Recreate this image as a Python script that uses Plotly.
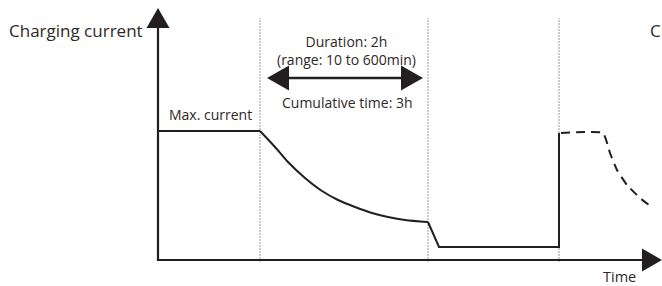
import plotly.graph_objects as go

# Coordinate system: time to the right of the current axis, current upward from the time axis
T_MIN, T_AXIS_TIP = -158, 504
I_MIN, I_MAX_VIEW = -26, 260
I_AXIS_TIP = 252

phase_bounds = [102, 270, 401]          # dotted phase separators (time)
phase_top = 242

# constant current phase
cc_t = [0, 102]
cc_i = [129, 129]
# decaying phase
decay_t = [102, 117, 130, 147, 164, 180, 197, 214, 230, 247, 270]
decay_i = [129, 113, 98, 82, 69, 60, 53, 47, 43, 40, 38]
# drop, float and restart
tail_t = [270, 281, 401, 401]
tail_i = [38, 13, 13, 127]
# next cycle (dashed)
next_t = [403, 445, 452, 459, 469, 482, 495]
next_i = [127, 127, 107, 90, 75, 62, 52]

# duration arrow
dur_t = [109, 265]
dur_i = 182

INK = "#231f20"
TXT = "#2e2826"
FONT = "Open Sans"

fig = go.Figure()

# dotted separators
for tb in phase_bounds:
    fig.add_trace(go.Scatter(x=[tb, tb], y=[-2, phase_top], mode="lines",
                             line=dict(color="#9a9a9a", width=1, dash="2px,1px"),
                             hoverinfo="skip", showlegend=False))

# axes lines
AH_LEN, AH_HALF = 20, 11.5
fig.add_trace(go.Scatter(x=[0, 0, T_AXIS_TIP - AH_LEN], y=[I_AXIS_TIP - AH_LEN, 0, 0],
                         mode="lines", line=dict(color=INK, width=2.2),
                         hoverinfo="skip", showlegend=False))

# profile
for xs, ys, shp in [(cc_t, cc_i, "linear"), (decay_t, decay_i, "spline"), (tail_t, tail_i, "linear")]:
    fig.add_trace(go.Scatter(x=xs, y=ys, mode="lines",
                             line=dict(color=INK, width=2, shape=shp, smoothing=0.8),
                             hoverinfo="skip", showlegend=False))
fig.add_trace(go.Scatter(x=next_t, y=next_i, mode="lines",
                         line=dict(color=INK, width=2, dash="9px,6px", shape="spline", smoothing=0.4),
                         hoverinfo="skip", showlegend=False))

# duration arrow line
DA_LEN, DA_HALF = 22, 12.5
fig.add_trace(go.Scatter(x=[dur_t[0] + DA_LEN - 2, dur_t[1] - DA_LEN + 2], y=[dur_i, dur_i],
                         mode="lines", line=dict(color=INK, width=2.5),
                         hoverinfo="skip", showlegend=False))

def tri(p):
    return dict(type="path", path=p, fillcolor=INK, line=dict(width=0), layer="above")

shapes = [
    tri(f"M {-AH_HALF},{I_AXIS_TIP - AH_LEN} L {AH_HALF},{I_AXIS_TIP - AH_LEN} L 0,{I_AXIS_TIP} Z"),
    tri(f"M {T_AXIS_TIP - AH_LEN},{-AH_HALF} L {T_AXIS_TIP - AH_LEN},{AH_HALF} L {T_AXIS_TIP},0 Z"),
    tri(f"M {dur_t[0] + DA_LEN},{dur_i - DA_HALF} L {dur_t[0] + DA_LEN},{dur_i + DA_HALF} L {dur_t[0]},{dur_i} Z"),
    tri(f"M {dur_t[1] - DA_LEN},{dur_i - DA_HALF} L {dur_t[1] - DA_LEN},{dur_i + DA_HALF} L {dur_t[1]},{dur_i} Z"),
]

ann = [
    dict(text="Charging current", x=-13, y=230, xanchor="right", size=17),
    dict(text="Duration: 2h<br>(range: 10 to 600min)", x=188, y=210, xanchor="center", size=14),
    dict(text="Cumulative time: 3h", x=189, y=158, xanchor="center", size=14),
    dict(text="Max. current", x=52, y=146, xanchor="center", size=14),
    dict(text="Time", x=461, y=-16, xanchor="center", size=14.5),
    dict(text="Charging current", x=490, y=230, xanchor="left", size=17),
]
annotations = [dict(text=a["text"], x=a["x"], y=a["y"], xref="x", yref="y",
                    xanchor=a["xanchor"], yanchor="middle", showarrow=False,
                    font=dict(family=FONT, size=a["size"], color=TXT)) for a in ann]

fig.update_layout(
    width=662, height=286, margin=dict(l=0, r=0, t=0, b=0),
    paper_bgcolor="white", plot_bgcolor="white",
    xaxis=dict(range=[T_MIN, T_AXIS_TIP], visible=False, fixedrange=True),
    yaxis=dict(range=[I_MIN, I_MAX_VIEW], visible=False, fixedrange=True),
    shapes=shapes, annotations=annotations, showlegend=False,
)
fig.write_html("out.html", config={"displayModeBar": False},
               post_script="document.body.style.margin='0';document.body.style.overflow='hidden';")
